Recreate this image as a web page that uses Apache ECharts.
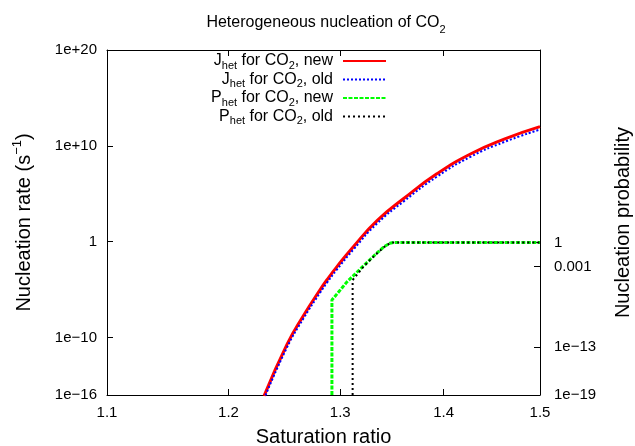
<!DOCTYPE html>
<html><head><meta charset="utf-8">
<script src="https://cdn.jsdelivr.net/npm/echarts@6/dist/echarts.min.js"></script>
<style>html,body{margin:0;padding:0;background:#fff}#c{width:635px;height:446px}</style>
</head><body><div id="c"></div>
<script>
// ---- data ----
const xTicks = [1.1, 1.2, 1.3, 1.4, 1.5];
const xTickLabels = ['1.1', '1.2', '1.3', '1.4', '1.5'];
const yLeftTicks = [1e-16, 1e-10, 1, 1e10, 1e20];
const yLeftTickLabels = ['1e\u221216', '1e\u221210', '1', '1e+10', '1e+20'];
const yRightTicks = [1e-19, 1e-13, 1e-3, 1];
const yRightTickLabels = ['1e\u221219', '1e\u221213', '0.001', '1'];

const jNewS = [1.2310, 1.2515, 1.2663, 1.2815, 1.2876, 1.2970, 1.3125, 1.3348, 1.3605, 1.3935, 1.4271, 1.4620, 1.5000];
const jNewV = [8.0e-17, 2.0e-11, 2.0e-8, 1.0e-5, 1.0e-4, 2.5e-3, 0.32, 158, 3.2e4, 1.26e7, 1.41e9, 5.0e10, 1.0e12];
const jOldS = [1.2310, 1.2515, 1.2663, 1.2815, 1.2876, 1.2970, 1.3125, 1.3348, 1.3605, 1.3935, 1.4271, 1.4620, 1.5000];
const jOldV = [4.0e-17, 1.0e-11, 1.0e-8, 5.0e-6, 5.0e-5, 1.26e-3, 0.16, 79, 1.6e4, 6.3e6, 7.1e8, 2.5e10, 5.0e11];
const pNewS = [1.2923, 1.2923, 1.3063, 1.3219, 1.3330, 1.3411, 1.3470, 1.3504, 1.5000];
const pNewV = [1e-19, 6.9e-8, 1.26e-5, 1.26e-3, 0.032, 0.28, 0.8, 1, 1];
const pOldS = [1.3116, 1.3116, 1.3219, 1.3330, 1.3411, 1.3470, 1.3504, 1.5000];
const pOldV = [1e-19, 2.1e-5, 1.0e-3, 0.028, 0.26, 0.78, 1, 1];

const names = ['Jnew', 'Jold', 'Pnew', 'Pold'];
const legendTexts = {
  Jnew: '{a|J}{s|het}{a| for CO}{s|2}{a|, new}{g| }',
  Jold: '{a|J}{s|het}{a| for CO}{s|2}{a|, old}{g| }',
  Pnew: '{a|P}{s|het}{a| for CO}{s|2}{a|, new}{g| }',
  Pold: '{a|P}{s|het}{a| for CO}{s|2}{a|, old}{g| }'
};
const legendRowsY = [63, 81.5, 100, 118.5];

// ---- chart ----
const F = 'Liberation Sans, Arial, Helvetica, sans-serif';
function pairs(xs, ys) { return xs.map((x, i) => [x, ys[i]]); }
function labeler(ticks, labels) {
  return function (v) {
    for (let i = 0; i < ticks.length; i++) {
      if (Math.abs(Math.log10(v) - Math.log10(ticks[i])) < 1e-6) return labels[i];
    }
    return '';
  };
}
const richSub = {
  a: { fontSize: 16, fontFamily: F, color: '#000', lineHeight: 20 },
  s: { fontSize: 11, fontFamily: F, color: '#000', lineHeight: 10, verticalAlign: 'bottom' },
  g: { width: 5, fontSize: 14 }
};
const axisLineStyle = { color: '#000', width: 1 };

const legends = names.map((n, i) => ({
  data: [n], orient: 'vertical', align: 'right', right: 248, top: legendRowsY[i] - 10,
  itemWidth: 43, itemHeight: 20, padding: 0, selectedMode: false,
  itemStyle: { opacity: 0 },
  formatter: name => legendTexts[name],
  textStyle: { rich: richSub }
}));

const chart = echarts.init(document.getElementById('c'), null, { renderer: 'canvas' });
chart.setOption({
  animation: false,
  backgroundColor: '#fff',
  textStyle: { fontFamily: F },
  title: {
    text: '{a|Heterogeneous nucleation of CO}{s|2}',
    left: 321, top: 6, textAlign: 'center',
    textStyle: { fontWeight: 'normal', rich: {
      a: { fontSize: 16, fontFamily: F, fontWeight: 'normal', color: '#000', lineHeight: 24 },
      s: { fontSize: 11, fontFamily: F, fontWeight: 'normal', color: '#000', lineHeight: 11, verticalAlign: 'bottom' }
    } }
  },
  legend: legends,
  grid: { left: 107, right: 95, top: 50, bottom: 51, containLabel: false, outerBoundsMode: 'none' },
  xAxis: [{
    type: 'log', min: 1.1, max: 1.5, position: 'bottom',
    axisLine: { lineStyle: axisLineStyle },
    axisTick: { inside: true, length: 6, customValues: xTicks, lineStyle: axisLineStyle },
    axisLabel: { customValues: xTicks, formatter: labeler(xTicks, xTickLabels), fontSize: 15, color: '#000', margin: 10, fontFamily: F },
    splitLine: { show: false }, minorTick: { show: false },
    name: 'Saturation ratio', nameLocation: 'middle', nameGap: 32,
    nameTextStyle: { fontSize: 20, color: '#000', fontFamily: F }
  }, {
    type: 'log', min: 1.1, max: 1.5, position: 'top',
    axisLine: { lineStyle: axisLineStyle },
    axisTick: { inside: true, length: 6, customValues: xTicks, lineStyle: axisLineStyle },
    axisLabel: { show: false },
    splitLine: { show: false }, minorTick: { show: false }
  }],
  yAxis: [{
    type: 'log', min: 1e-16, max: 1e20, position: 'left',
    axisLine: { show: true, lineStyle: axisLineStyle },
    axisTick: { show: true, inside: true, length: 6, customValues: yLeftTicks, lineStyle: axisLineStyle },
    axisLabel: { customValues: yLeftTicks, formatter: labeler(yLeftTicks, yLeftTickLabels), fontSize: 15, color: '#000', margin: 10, fontFamily: F },
    splitLine: { show: false }, minorTick: { show: false },
    name: '{a|Nucleation rate (s}{p|\u22121}{a|)}', nameLocation: 'middle', nameGap: 70,
    nameTextStyle: { rich: {
      a: { fontSize: 20, fontFamily: F, color: '#000', lineHeight: 26 },
      p: { fontSize: 13, fontFamily: F, color: '#000', lineHeight: 13, verticalAlign: 'top' }
    } }
  }, {
    type: 'log', min: 1e-19, max: 1e24, position: 'right',
    axisLine: { show: true, lineStyle: axisLineStyle },
    axisTick: { show: true, inside: true, length: 6, customValues: yRightTicks, lineStyle: axisLineStyle },
    axisLabel: { customValues: yRightTicks, formatter: labeler(yRightTicks, yRightTickLabels), fontSize: 15, color: '#000', margin: 14, fontFamily: F },
    splitLine: { show: false }, minorTick: { show: false },
    name: 'Nucleation probability', nameLocation: 'middle', nameGap: 73,
    nameTextStyle: { fontSize: 20, color: '#000', fontFamily: F }
  }],
  series: [{
    name: 'Jnew', type: 'line', xAxisIndex: 0, yAxisIndex: 0, data: pairs(jNewS, jNewV),
    symbol: 'none', smooth: 0.5, lineStyle: { color: '#ff0000', width: 3 }, itemStyle: { color: '#ff0000' }
  }, {
    name: 'Jold', type: 'line', xAxisIndex: 0, yAxisIndex: 0, data: pairs(jOldS, jOldV),
    symbol: 'none', smooth: 0.5, lineStyle: { color: '#0000ff', width: 2, type: [2, 2] }, itemStyle: { color: '#0000ff' }
  }, {
    name: 'Pnew', type: 'line', xAxisIndex: 0, yAxisIndex: 1, data: pairs(pNewS, pNewV),
    symbol: 'none', lineStyle: { color: '#00ff00', width: 3, type: [4, 1.5] }, itemStyle: { color: '#00ff00' }
  }, {
    name: 'Pold', type: 'line', xAxisIndex: 0, yAxisIndex: 1, data: pairs(pOldS, pOldV),
    symbol: 'none', lineStyle: { color: '#000000', width: 2, type: [2, 3] }, itemStyle: { color: '#000' }
  }]
});
</script>
</body></html>
